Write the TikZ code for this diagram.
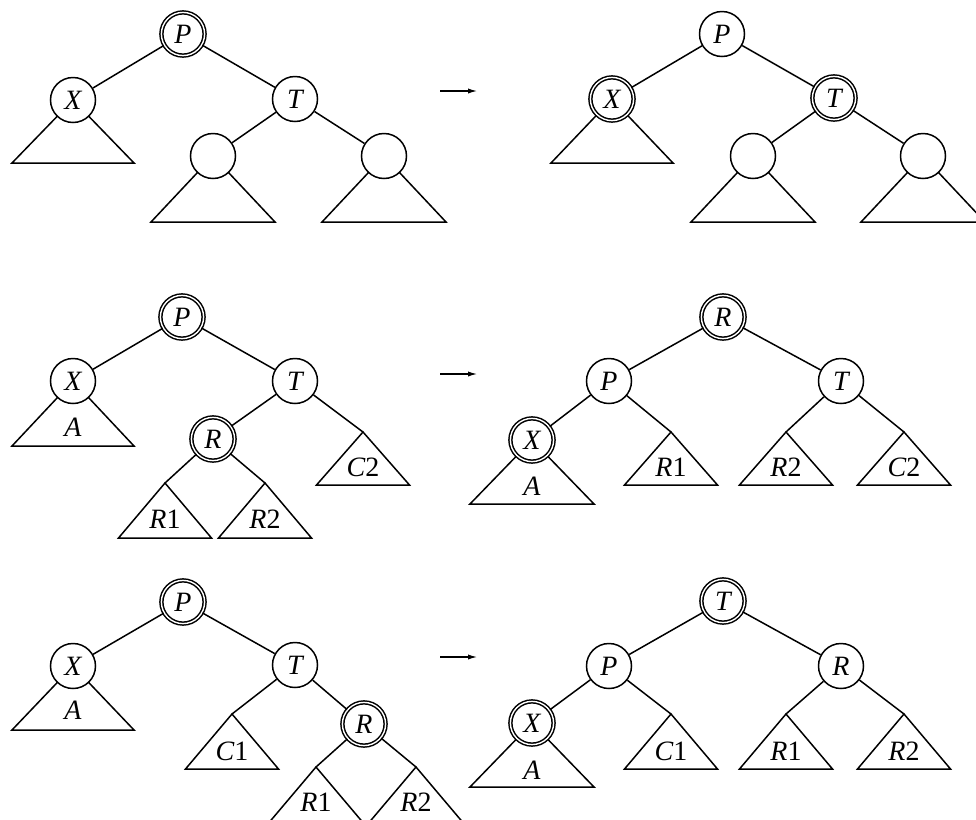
\documentclass[tikz,border=0pt]{standalone}
\usepackage{fontspec}
\setmainfont{Liberation Serif}
\newfontfamily\treefont{Liberation Serif}
\usetikzlibrary{arrows.meta,backgrounds}
\tikzset{
    tree-node/.style = {draw, circle, fill=white, inner sep=0pt, minimum size=22.5pt, font=\treefont\fontsize{14}{16}\selectfont\itshape},
    tree-node-red/.style = {tree-node, double, double distance=0.7pt, minimum size=21.6pt},
    tree-label/.style = {inner sep=0pt, font=\treefont\fontsize{14}{16}\selectfont},
    subtree/.style = {draw, line width=0.75pt},
    step-arrow/.style = {-{Latex[length=4.5pt, width=2.6pt]}, line width=0.55pt},
}
\begin{document}
\begin{tikzpicture}[x=0.5pt, y=-0.5pt, line width=0.75pt]
\useasboundingbox (0,0) rectangle (976,820);

% case 1
\node[tree-node-red] (l1-P) at (183,34) {P};
\node[tree-node] (l1-X) at (73,100) {X};
\node[tree-node] (l1-T) at (295,99) {T};
\node[tree-node] (l1-E) at (213,156) {};
\node[tree-node] (l1-F) at (384,156) {};
\draw (l1-P) -- (l1-X);
\draw (l1-P) -- (l1-T);
\draw (l1-T) -- (l1-E);
\draw (l1-T) -- (l1-F);

\coordinate (a1-s) at (440,91);
\coordinate (a1-e) at (477,91);
\draw[step-arrow] (a1-s) -- (a1-e);

\node[tree-node] (r1-P) at (722,34) {P};
\node[tree-node-red] (r1-X) at (612,99) {X};
\node[tree-node-red] (r1-T) at (834,98) {T};
\node[tree-node] (r1-E) at (753,156) {};
\node[tree-node] (r1-F) at (923,156) {};
\draw (r1-P) -- (r1-X);
\draw (r1-P) -- (r1-T);
\draw (r1-T) -- (r1-E);
\draw (r1-T) -- (r1-F);

\begin{scope}[on background layer]
\path[subtree] (l1-X.center) -- ++(-61,63) -- ++(122,0) -- cycle;
\path[subtree] (l1-E.center) -- ++(-62,66) -- ++(124,0) -- cycle;
\path[subtree] (l1-F.center) -- ++(-62,66) -- ++(124,0) -- cycle;
\path[subtree] (r1-X.center) -- ++(-61,64) -- ++(122,0) -- cycle;
\path[subtree] (r1-E.center) -- ++(-62,66) -- ++(124,0) -- cycle;
\path[subtree] (r1-F.center) -- ++(-62,66) -- ++(124,0) -- cycle;
\end{scope}

% case 2
\node[tree-node-red] (l2-P) at (182,317) {P};
\node[tree-node] (l2-X) at (73,381) {X};
\node[tree-node] (l2-T) at (295,381) {T};
\node[tree-node-red] (l2-R) at (213,439) {R};
\coordinate (l2-r1) at (165,483);
\coordinate (l2-r2) at (265,483);
\coordinate (l2-c2) at (363,432);
\draw (l2-P) -- (l2-X);
\draw (l2-P) -- (l2-T);
\draw (l2-T) -- (l2-R);
\draw (l2-T) -- (l2-c2);
\draw (l2-R) -- (l2-r1);
\draw (l2-R) -- (l2-r2);
\draw (l2-r1) -- ++(-46.5,55) -- ++(93,0) -- cycle;
\draw (l2-r2) -- ++(-46.5,55) -- ++(93,0) -- cycle;
\draw (l2-c2) -- ++(-46.5,53) -- ++(93,0) -- cycle;
\node[tree-label] (l2-A) at ([yshift=-23pt]l2-X) {\textit{A}};
\node[tree-label] (l2-R1) at ([yshift=-18pt]l2-r1) {\textit{R}1};
\node[tree-label] (l2-R2) at ([yshift=-18pt]l2-r2) {\textit{R}2};
\node[tree-label] (l2-C2) at ([yshift=-17.5pt]l2-c2) {\textit{C}2};

\coordinate (a2-s) at (440,374);
\coordinate (a2-e) at (477,374);
\draw[step-arrow] (a2-s) -- (a2-e);

\node[tree-node-red] (r2-R) at (723,317) {R};
\node[tree-node] (r2-P) at (609,381) {P};
\node[tree-node] (r2-T) at (841,381) {T};
\node[tree-node-red] (r2-X) at (532,440) {X};
\coordinate (r2-r1) at (671,432);
\coordinate (r2-r2) at (786,432);
\coordinate (r2-c2) at (904,432);
\draw (r2-R) -- (r2-P);
\draw (r2-R) -- (r2-T);
\draw (r2-P) -- (r2-X);
\draw (r2-P) -- (r2-r1);
\draw (r2-T) -- (r2-r2);
\draw (r2-T) -- (r2-c2);
\draw (r2-r1) -- ++(-46.5,53) -- ++(93,0) -- cycle;
\draw (r2-r2) -- ++(-46.5,53) -- ++(93,0) -- cycle;
\draw (r2-c2) -- ++(-46.5,53) -- ++(93,0) -- cycle;
\node[tree-label] (r2-A) at ([yshift=-23pt]r2-X) {\textit{A}};
\node[tree-label] (r2-R1) at ([yshift=-17.5pt]r2-r1) {\textit{R}1};
\node[tree-label] (r2-R2) at ([yshift=-17.5pt]r2-r2) {\textit{R}2};
\node[tree-label] (r2-C2) at ([yshift=-17.5pt]r2-c2) {\textit{C}2};

\begin{scope}[on background layer]
\path[subtree] (l2-X.center) -- ++(-61,65) -- ++(122,0) -- cycle;
\path[subtree] (r2-X.center) -- ++(-62,64) -- ++(124,0) -- cycle;
\end{scope}

% case 3
\node[tree-node-red] (l3-P) at (183,602) {P};
\node[tree-node] (l3-X) at (73,666) {X};
\node[tree-node] (l3-T) at (295,665) {T};
\node[tree-node-red] (l3-R) at (364,724) {R};
\coordinate (l3-c1) at (232,714);
\coordinate (l3-r1) at (316,767);
\coordinate (l3-r2) at (416,767);
\draw (l3-P) -- (l3-X);
\draw (l3-P) -- (l3-T);
\draw (l3-T) -- (l3-c1);
\draw (l3-T) -- (l3-R);
\draw (l3-R) -- (l3-r1);
\draw (l3-R) -- (l3-r2);
\draw (l3-c1) -- ++(-46.5,55) -- ++(93,0) -- cycle;
\draw (l3-r1) -- ++(-46.5,55) -- ++(93,0) -- cycle;
\draw (l3-r2) -- ++(-46.5,55) -- ++(93,0) -- cycle;
\node[tree-label] (l3-A) at ([yshift=-22pt]l3-X) {\textit{A}};
\node[tree-label] (l3-C1) at ([yshift=-18.5pt]l3-c1) {\textit{C}1};
\node[tree-label] (l3-R1) at ([yshift=-17.5pt]l3-r1) {\textit{R}1};
\node[tree-label] (l3-R2) at ([yshift=-17.5pt]l3-r2) {\textit{R}2};

\coordinate (a3-s) at (440,657);
\coordinate (a3-e) at (477,657);
\draw[step-arrow] (a3-s) -- (a3-e);

\node[tree-node-red] (r3-T) at (723,601) {T};
\node[tree-node] (r3-P) at (609,666) {P};
\node[tree-node] (r3-R) at (841,666) {R};
\node[tree-node-red] (r3-X) at (532,723) {X};
\coordinate (r3-c1) at (671,714);
\coordinate (r3-r1) at (786,714);
\coordinate (r3-r2) at (904,714);
\draw (r3-T) -- (r3-P);
\draw (r3-T) -- (r3-R);
\draw (r3-P) -- (r3-X);
\draw (r3-P) -- (r3-c1);
\draw (r3-R) -- (r3-r1);
\draw (r3-R) -- (r3-r2);
\draw (r3-c1) -- ++(-46.5,55) -- ++(93,0) -- cycle;
\draw (r3-r1) -- ++(-46.5,55) -- ++(93,0) -- cycle;
\draw (r3-r2) -- ++(-46.5,55) -- ++(93,0) -- cycle;
\node[tree-label] (r3-A) at ([yshift=-23.5pt]r3-X) {\textit{A}};
\node[tree-label] (r3-C1) at ([yshift=-18.5pt]r3-c1) {\textit{C}1};
\node[tree-label] (r3-R1) at ([yshift=-18.5pt]r3-r1) {\textit{R}1};
\node[tree-label] (r3-R2) at ([yshift=-18.5pt]r3-r2) {\textit{R}2};

\begin{scope}[on background layer]
\path[subtree] (l3-X.center) -- ++(-61,64) -- ++(122,0) -- cycle;
\path[subtree] (r3-X.center) -- ++(-62,64) -- ++(124,0) -- cycle;
\end{scope}
\end{tikzpicture}
\end{document}
